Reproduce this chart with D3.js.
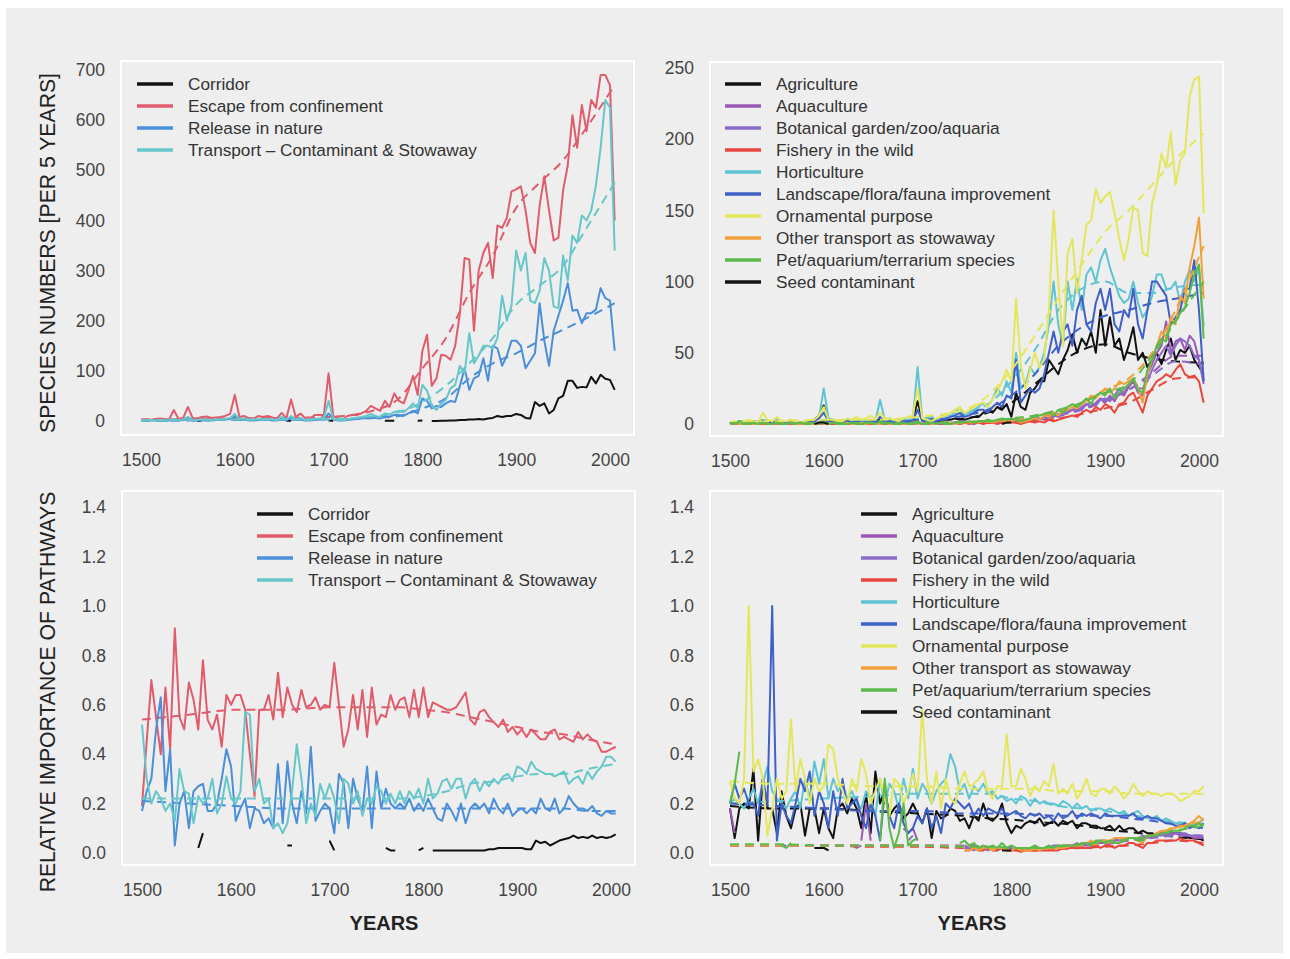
<!DOCTYPE html>
<html>
<head>
<meta charset="utf-8">
<script src="https://cdn.jsdelivr.net/npm/d3@7/dist/d3.min.js"></script>
<style>
  html, body { margin: 0; padding: 0; background: #fff; }
  svg { display: block; }
</style>
</head>
<body>
<div id="chart"></div>
<script>
const _ = null;

// ---------- categories ----------
const years = [
1500,1505,1510,1515,1520,1525,1530,1535,1540,1545,
1550,1555,1560,1565,1570,1575,1580,1585,1590,1595,
1600,1605,1610,1615,1620,1625,1630,1635,1640,1645,
1650,1655,1660,1665,1670,1675,1680,1685,1690,1695,
1700,1705,1710,1715,1720,1725,1730,1735,1740,1745,
1750,1755,1760,1765,1770,1775,1780,1785,1790,1795,
1800,1805,1810,1815,1820,1825,1830,1835,1840,1845,
1850,1855,1860,1865,1870,1875,1880,1885,1890,1895,
1900,1905,1910,1915,1920,1925,1930,1935,1940,1945,
1950,1955,1960,1965,1970,1975,1980,1985,1990,1995,
2000,2005];
const trendYears = [1500,1550,1600,1650,1700,1750,1775,1800,1825,1850,1875,1900,1925,1950,1975,2005];
const xTickValues = [1500,1600,1700,1800,1900,2000];
const countTicks1 = [0,100,200,300,400,500,600,700];
const countTicks2 = [0,50,100,150,200,250];
const shareTicks = [0,0.2,0.4,0.6,0.8,1.0,1.2,1.4];

const groupNames = ["Corridor","Escape from confinement","Release in nature","Transport \u2013 Contaminant & Stowaway"];
const pathwayNames = ["Agriculture","Aquaculture","Botanical garden/zoo/aquaria","Fishery in the wild","Horticulture",
  "Landscape/flora/fauna improvement","Ornamental purpose","Other transport as stowaway","Pet/aquarium/terrarium species","Seed contaminant"];

// ---------- panel 1: species numbers by pathway group ----------
const corridorCount = [
_,_,_,_,_,_,_,_,_,_,
_,_,0,1,_,_,_,_,_,_,
_,_,_,_,_,_,_,_,_,_,
_,0.5,0.5,_,_,_,_,_,_,_,
1,0.3,_,_,_,_,_,_,_,_,
_,_,0.5,0.3,0.3,_,_,_,_,0.3,
1,_,0,0,0.5,0.5,1,1,2,2,
3,3,4,3,5,6,10,8,10,10,
14,12,6,5,38,30,35,15,22,45,
50,80,80,66,68,67,88,75,92,84,
82,62];
const escapeCount = [
2,3,2,4,5,4,3,22,4,6,
28,6,5,8,9,6,7,8,10,14,
52,8,10,5,4,10,8,10,7,5,
16,5,43,8,15,6,3,12,12,12,
95,10,5,3,10,12,12,15,20,30,
25,20,40,28,55,40,35,60,90,52,
140,172,70,85,132,130,122,150,215,325,
322,180,300,335,355,285,390,385,405,458,
462,468,420,355,335,430,488,420,360,365,
460,510,610,545,630,578,640,625,690,690,
670,400];
const releaseCount = [
1,0,1,1,1,0,1,2,1,2,
4,1,1,2,1,1,2,2,3,4,
10,2,3,1,1,2,2,3,1,1,
5,1,6,2,3,1,1,2,3,3,
15,3,1,1,2,3,4,5,6,8,
6,5,10,8,12,12,10,15,20,15,
45,40,25,30,28,35,40,38,70,105,
62,85,90,125,80,150,145,110,130,160,
160,150,105,120,135,235,160,110,180,210,
240,275,220,222,195,215,215,222,265,245,
240,140];
const transportCount = [
1,1,2,1,2,1,2,4,2,3,
8,2,2,3,3,2,3,3,4,6,
14,4,5,2,3,4,3,4,3,2,
8,3,10,3,6,2,2,4,5,6,
40,4,2,1,4,5,6,8,10,14,
10,8,15,12,18,20,18,25,35,25,
72,60,30,22,35,42,65,72,110,95,
175,115,130,150,150,145,165,250,200,230,
340,300,335,240,235,260,325,300,228,225,
330,280,370,355,410,400,420,470,545,640,
625,340];
const escapeCountTrend    = [3,4,5,6,8,22,45,105,165,255,330,425,475,520,585,670];
const releaseCountTrend   = [0,1,2,2,3,6,10,25,45,85,115,135,160,182,205,235];
const transportCountTrend = [1,2,3,3,4,10,18,38,70,115,165,232,270,310,385,475];

// ---------- panel 2: species numbers by pathway ----------
const agricultureCount = [
1,1,2,1,1,2,1,2,1,2,
3,1,1,1,2,1,1,2,3,6,
13,3,2,1,1,2,1,2,1,2,
2,1,4,1,2,1,1,2,2,3,
16,3,1,1,2,2,3,3,4,3,
3,4,5,5,8,10,8,12,10,14,
5,22,12,10,22,25,30,30,45,40,
35,45,52,63,50,60,55,65,50,80,
55,75,55,60,45,55,68,45,50,40,
45,50,42,52,60,45,52,50,55,45,
40,35];
const aquacultureCount = [
1,0,1,0,1,0,0,1,0,1,
1,0,0,1,0,1,0,0,1,1,
1,0,1,0,0,1,0,1,0,0,
1,0,1,0,0,1,0,0,1,0,
1,0,0,1,0,0,1,0,1,1,
1,1,0,1,1,2,1,1,2,2,
2,2,1,2,3,3,4,3,5,6,
5,7,8,10,9,12,14,12,15,18,
15,20,16,22,20,26,30,22,20,35,
42,50,55,72,50,58,60,52,62,58,
45,30];
const botanicalCount = [
0,1,0,1,0,0,1,0,1,0,
0,1,0,0,1,0,1,0,0,1,
2,0,0,1,0,0,1,0,1,0,
1,1,0,0,1,0,0,1,0,1,
2,0,1,0,1,0,0,1,1,2,
2,1,1,2,2,1,2,2,3,3,
3,2,2,3,3,4,3,5,6,5,
7,6,9,10,12,10,14,15,13,17,
18,16,20,25,22,28,32,25,25,30,
38,45,50,55,48,55,60,58,55,48,
45,28];
const fisheryCount = [
0,0,1,0,0,1,0,0,0,1,
0,0,1,0,0,0,1,0,0,0,
1,0,0,0,1,0,0,0,0,1,
0,0,1,0,0,0,1,0,0,0,
1,0,0,0,0,1,0,0,1,0,
1,0,1,1,0,1,1,0,1,1,
1,1,0,1,2,1,2,1,3,2,
3,4,5,6,5,8,10,8,12,10,
14,12,8,14,15,20,22,15,8,20,
25,30,32,35,33,38,42,35,33,34,
30,15];
const horticultureCount = [
1,1,2,1,2,1,2,3,2,2,
3,2,1,2,2,1,2,2,3,5,
25,4,3,2,2,3,2,3,2,2,
3,2,17,3,4,2,2,3,3,4,
40,4,2,2,3,3,4,6,8,12,
6,8,10,12,15,12,18,25,20,30,
22,50,25,28,40,35,40,50,70,100,
70,55,100,80,102,80,105,110,100,115,
123,110,100,90,85,88,100,85,75,80,
90,105,105,95,95,100,85,100,108,100,
110,68];
const landscapeCount = [
1,1,1,2,1,1,1,2,1,1,
2,1,1,1,2,1,1,2,2,4,
8,2,2,1,1,2,1,2,1,1,
3,1,5,1,2,1,1,2,2,2,
10,2,1,1,2,3,3,5,6,8,
5,6,8,10,10,8,12,15,12,20,
18,45,15,20,25,22,25,35,50,65,
50,65,70,55,80,90,70,65,85,95,
80,95,70,65,80,75,95,70,60,80,
100,100,95,90,70,75,80,95,95,115,
80,30];
const ornamentalCount = [
1,2,1,2,3,2,1,8,3,2,
5,2,2,3,2,1,2,3,3,6,
12,3,3,2,2,4,3,5,3,4,
6,3,8,4,4,3,2,4,5,6,
25,4,3,2,4,5,6,8,10,12,
8,10,12,14,15,12,18,22,30,38,
30,88,42,25,38,50,40,45,80,150,
100,55,120,130,92,115,140,143,165,155,
160,163,148,130,115,130,152,150,120,118,
155,168,190,180,205,168,185,190,230,242,
244,148];
const otherTransportCount = [
0,1,0,0,1,0,0,1,0,0,
1,0,0,1,0,0,1,0,0,1,
1,0,1,0,0,1,0,0,1,0,
1,0,0,1,0,0,1,0,0,1,
1,0,1,0,0,1,0,1,0,1,
1,1,2,1,2,2,1,2,3,2,
2,3,1,2,3,4,3,6,5,8,
6,9,10,12,11,14,16,20,18,22,
25,22,25,30,28,30,32,25,15,35,
45,55,65,60,75,70,90,85,110,125,
145,88];
const petCount = [
1,0,2,0,0,1,0,1,0,0,
1,0,0,1,0,1,0,0,1,0,
2,0,1,0,0,0,1,0,0,1,
1,0,2,0,1,0,0,1,0,0,
2,0,0,1,0,1,0,0,1,1,
1,2,1,2,2,3,2,3,4,3,
4,3,2,3,4,5,6,7,8,6,
10,8,12,14,12,15,18,14,20,22,
20,25,18,22,25,28,32,24,22,38,
45,55,60,58,70,72,78,82,92,105,
112,60];
const seedCount = [
_,_,_,_,_,_,_,_,_,_,
_,_,_,_,_,_,_,_,0,1,
1,0,_,_,_,_,_,_,_,_,
_,_,_,_,_,_,_,_,_,_,
_,_,_,_,_,_,_,_,_,_,
_,_,_,_,_,_,_,_,0,1,
1,_,_,_,_,_,_,_,_,_,
_,_,_,_,_,_,_,_,_,_,
_,_,_,_,_,_,_,_,_,_,
_,_,_,_,_,_,_,_,_,_,
_,_];
const agricultureCountTrend    = [1,1.5,2,2,3,4,8,15,28,42,52,56,50,46,44,43];
const aquacultureCountTrend    = [0.5,0.5,0.5,0.5,0.5,1,1,2,3,6,10,16,24,36,48,48];
const botanicalCountTrend      = [0.5,0.5,0.5,0.5,0.7,1,1.5,3,4,7,11,17,24,34,44,42];
const fisheryCountTrend        = [0.3,0.3,0.3,0.3,0.4,0.5,0.8,1,2,4,7,11,15,24,32,33];
const horticultureCountTrend   = [1,1.5,2,2.5,4,8,14,30,52,80,95,100,92,92,96,98];
const landscapeCountTrend      = [0.8,1,1.5,1.5,2.5,6,10,20,35,55,68,76,80,85,88,92];
const ornamentalCountTrend     = [1.5,2,3,3,5,10,20,38,62,88,112,135,150,168,186,204];
const otherTransportCountTrend = [0.5,0.5,0.5,0.5,0.6,1,1.5,3,5,9,15,24,32,50,80,125];
const petCountTrend            = [0.6,0.6,0.7,0.7,0.8,1.5,2,4,6,10,15,22,28,48,72,100];

// ---------- panel 3: relative importance by pathway group ----------
const corridorShare = [
_,_,_,_,_,_,_,_,_,_,
_,_,0.02,0.08,_,_,_,_,_,_,
_,_,_,_,_,_,_,_,_,_,
_,0.03,0.03,_,_,_,_,_,_,_,
0.05,0.01,_,_,_,_,_,_,_,_,
_,_,0.02,0.01,0.01,_,_,_,_,0.01,
0.02,_,0.01,0.01,0.01,0.01,0.01,0.01,0.01,0.01,
0.01,0.01,0.01,0.01,0.015,0.015,0.02,0.02,0.02,0.02,
0.02,0.02,0.015,0.015,0.05,0.04,0.045,0.03,0.04,0.05,
0.055,0.06,0.07,0.06,0.065,0.06,0.07,0.06,0.065,0.06,
0.065,0.075];
const escapeShare = [
0.19,0.45,0.70,0.55,0.40,0.67,0.42,0.91,0.55,0.50,
0.69,0.62,0.50,0.78,0.54,0.50,0.56,0.43,0.64,0.60,
0.64,0.64,0.58,0.40,0.23,0.58,0.58,0.64,0.54,0.73,
0.55,0.67,0.60,0.57,0.66,0.59,0.60,0.63,0.58,0.60,
0.59,0.77,0.60,0.43,0.50,0.64,0.50,0.66,0.47,0.67,
0.52,0.56,0.55,0.64,0.58,0.62,0.63,0.55,0.66,0.55,
0.67,0.55,0.61,0.60,0.59,0.58,0.58,0.59,0.62,0.65,
0.54,0.52,0.57,0.58,0.55,0.53,0.51,0.54,0.49,0.51,
0.48,0.50,0.47,0.50,0.48,0.46,0.46,0.49,0.50,0.46,
0.47,0.46,0.45,0.49,0.46,0.48,0.46,0.45,0.41,0.41,
0.42,0.43];
const releaseShare = [
0.17,0.25,0.30,0.50,0.63,0.25,0.42,0.03,0.20,0.25,
0.10,0.25,0.27,0.28,0.17,0.17,0.20,0.30,0.42,0.35,
0.13,0.18,0.22,0.10,0.18,0.17,0.12,0.14,0.10,0.36,
0.12,0.37,0.20,0.12,0.25,0.16,0.43,0.13,0.17,0.20,
0.18,0.08,0.32,0.28,0.10,0.30,0.22,0.17,0.35,0.10,
0.33,0.18,0.26,0.20,0.18,0.20,0.18,0.22,0.17,0.20,
0.17,0.22,0.18,0.14,0.13,0.20,0.17,0.13,0.20,0.12,
0.18,0.20,0.18,0.20,0.16,0.22,0.18,0.16,0.20,0.15,
0.17,0.18,0.16,0.18,0.16,0.22,0.18,0.17,0.22,0.16,
0.18,0.23,0.20,0.18,0.18,0.17,0.19,0.16,0.15,0.17,
0.16,0.16];
const transportShare = [
0.52,0.30,0.20,0.25,0.22,0.17,0.20,0.13,0.34,0.25,
0.24,0.12,0.23,0.20,0.22,0.30,0.16,0.20,0.31,0.22,
0.20,0.25,0.57,0.56,0.25,0.30,0.20,0.22,0.10,0.12,
0.08,0.12,0.25,0.44,0.30,0.12,0.20,0.15,0.28,0.22,
0.28,0.22,0.12,0.30,0.28,0.20,0.25,0.15,0.22,0.20,
0.27,0.25,0.20,0.24,0.20,0.25,0.20,0.25,0.22,0.26,
0.20,0.30,0.22,0.24,0.29,0.30,0.26,0.30,0.30,0.22,
0.28,0.30,0.25,0.29,0.27,0.30,0.28,0.31,0.32,0.29,
0.35,0.34,0.32,0.37,0.34,0.33,0.32,0.32,0.31,0.32,
0.33,0.28,0.30,0.31,0.28,0.33,0.30,0.33,0.35,0.39,
0.39,0.37];
const escapeShareTrend    = [0.54,0.56,0.58,0.58,0.59,0.59,0.59,0.58,0.57,0.55,0.53,0.51,0.49,0.48,0.46,0.44];
const releaseShareTrend   = [0.21,0.20,0.19,0.18,0.18,0.18,0.18,0.18,0.18,0.18,0.18,0.18,0.18,0.18,0.17,0.17];
const transportShareTrend = [0.22,0.22,0.22,0.22,0.22,0.22,0.22,0.23,0.25,0.28,0.29,0.31,0.32,0.32,0.34,0.36];

// ---------- panel 4: relative importance by pathway ----------
const agricultureShare = [
0.18,0.06,0.18,0.20,0.18,0.34,0.05,0.30,0.18,0.18,
0.08,0.25,0.15,0.10,0.18,0.20,0.07,0.18,0.18,0.08,
0.18,0.10,0.06,0.18,0.20,0.16,0.22,0.18,0.10,0.24,
0.08,0.33,0.20,0.26,0.15,0.18,0.20,0.14,0.16,0.20,
0.16,0.12,0.18,0.06,0.17,0.14,0.15,0.18,0.17,0.13,
0.14,0.10,0.15,0.13,0.20,0.14,0.13,0.15,0.20,0.12,
0.08,0.11,0.10,0.12,0.13,0.12,0.14,0.11,0.12,0.13,
0.11,0.13,0.12,0.13,0.10,0.12,0.12,0.11,0.11,0.10,
0.10,0.11,0.09,0.11,0.09,0.10,0.10,0.08,0.09,0.08,
0.08,0.07,0.08,0.09,0.08,0.08,0.08,0.07,0.06,0.06,
0.06,0.05];
const aquacultureShare = [
0.18,0.08,_,_,_,_,_,_,_,_,
_,0.03,0.03,_,_,_,_,_,_,_,
_,_,_,_,_,_,_,_,0.05,0.20,
0.05,_,_,_,_,_,_,0.10,0.08,0.10,
0.05,_,_,_,_,_,_,_,_,_,
0.03,0.02,0.02,0.01,0.02,0.02,0.01,0.02,0.02,0.01,
0.01,0.02,0.01,0.02,0.02,0.01,0.02,0.02,0.02,0.02,
0.02,0.03,0.03,0.03,0.02,0.03,0.03,0.03,0.04,0.04,
0.04,0.04,0.05,0.05,0.05,0.06,0.06,0.05,0.06,0.07,
0.07,0.08,0.08,0.09,0.08,0.08,0.07,0.07,0.07,0.06,
0.06,0.06];
const botanicalShare = [
_,_,_,_,_,_,_,_,_,_,
_,_,_,_,_,_,_,_,_,_,
_,_,_,_,_,_,0.03,0.02,0.03,_,
_,_,_,_,_,_,_,_,0.05,0.07,
_,_,_,_,_,_,_,_,_,_,
0.02,0.02,0.01,0.02,0.02,0.01,0.02,0.01,0.02,0.02,
0.02,0.01,0.02,0.02,0.01,0.02,0.02,0.02,0.02,0.03,
0.03,0.02,0.03,0.03,0.04,0.03,0.04,0.04,0.04,0.05,
0.05,0.04,0.05,0.06,0.05,0.06,0.06,0.06,0.07,0.06,
0.07,0.07,0.07,0.08,0.07,0.08,0.08,0.08,0.07,0.07,
0.07,0.06];
const fisheryShare = [
_,_,_,_,_,_,_,_,_,_,
_,_,_,_,_,_,_,_,_,_,
_,_,_,_,_,_,_,_,_,_,
_,_,_,_,_,_,_,_,_,_,
_,_,_,_,_,_,_,_,_,_,
0.01,0.01,0.02,0.01,0.01,0.02,0.01,0.01,0.02,0.01,
0.01,0.01,0.005,0.01,0.01,0.01,0.01,0.01,0.01,0.01,
0.01,0.02,0.02,0.02,0.02,0.02,0.02,0.02,0.03,0.02,
0.03,0.03,0.02,0.03,0.03,0.04,0.04,0.03,0.02,0.04,
0.04,0.05,0.05,0.05,0.05,0.05,0.06,0.05,0.05,0.05,
0.04,0.03];
const horticultureShare = [
0.20,0.22,0.20,0.18,0.22,0.26,0.20,0.28,0.35,0.25,
0.22,0.20,0.18,0.22,0.25,0.18,0.30,0.22,0.37,0.28,
0.38,0.22,0.30,0.25,0.28,0.22,0.25,0.20,0.18,0.25,
0.22,0.15,0.30,0.20,0.28,0.25,0.18,0.30,0.22,0.34,
0.22,0.28,0.25,0.20,0.25,0.28,0.30,0.40,0.35,0.25,
0.28,0.22,0.27,0.25,0.28,0.24,0.25,0.22,0.23,0.21,
0.22,0.20,0.23,0.22,0.19,0.22,0.20,0.21,0.20,0.20,
0.19,0.21,0.20,0.18,0.20,0.18,0.19,0.17,0.18,0.18,
0.17,0.18,0.17,0.16,0.17,0.15,0.16,0.17,0.15,0.14,
0.14,0.15,0.13,0.14,0.13,0.12,0.12,0.11,0.11,0.12,
0.12,0.14];
const landscapeShare = [
0.20,0.28,0.22,0.26,0.20,0.20,0.15,0.30,0.20,1.00,
0.05,0.20,0.15,0.12,0.20,0.30,0.25,0.33,0.15,0.25,
0.20,0.10,0.25,0.15,0.30,0.18,0.20,0.22,0.15,0.10,
0.20,0.15,0.05,0.25,0.15,0.10,0.20,0.12,0.08,0.10,
0.15,0.12,0.18,0.10,0.15,0.08,0.20,0.18,0.22,0.20,
0.18,0.20,0.15,0.18,0.15,0.18,0.17,0.16,0.18,0.15,
0.16,0.17,0.15,0.14,0.16,0.15,0.16,0.14,0.15,0.13,
0.16,0.14,0.15,0.17,0.14,0.16,0.15,0.16,0.15,0.14,
0.16,0.15,0.15,0.15,0.15,0.15,0.16,0.14,0.14,0.15,
0.14,0.14,0.13,0.12,0.12,0.11,0.11,0.12,0.10,0.11,
0.10,0.12];
const ornamentalShare = [
0.29,0.22,0.20,0.30,1.00,0.33,0.38,0.30,0.07,0.18,
0.30,0.22,0.25,0.54,0.25,0.38,0.30,0.20,0.30,0.25,
0.27,0.44,0.42,0.30,0.25,0.20,0.30,0.25,0.38,0.32,
0.20,0.25,0.30,0.22,0.15,0.30,0.28,0.20,0.25,0.32,
0.25,0.58,0.30,0.20,0.33,0.18,0.30,0.22,0.20,0.28,
0.33,0.27,0.28,0.30,0.33,0.25,0.22,0.27,0.27,0.48,
0.27,0.27,0.34,0.30,0.23,0.27,0.25,0.29,0.27,0.36,
0.24,0.26,0.24,0.28,0.22,0.25,0.30,0.24,0.23,0.26,
0.26,0.24,0.27,0.25,0.22,0.24,0.28,0.25,0.23,0.25,
0.24,0.24,0.23,0.24,0.24,0.23,0.21,0.22,0.23,0.25,
0.25,0.27];
const otherTransportShare = [
_,_,_,_,_,_,_,_,_,_,
_,_,_,_,_,_,_,_,_,_,
_,_,_,_,_,_,_,_,_,_,
_,_,_,_,_,_,_,_,_,_,
_,_,_,_,_,_,_,_,_,_,
0.01,0.01,0.02,0.01,0.02,0.02,0.01,0.02,0.02,0.01,
0.01,0.02,0.01,0.01,0.01,0.02,0.01,0.02,0.02,0.02,
0.02,0.02,0.03,0.03,0.03,0.04,0.04,0.05,0.04,0.05,
0.05,0.05,0.06,0.06,0.06,0.06,0.06,0.05,0.04,0.07,
0.07,0.08,0.09,0.09,0.10,0.10,0.11,0.11,0.12,0.13,
0.15,0.13];
const petShare = [
0.20,0.28,0.41,_,0.05,_,_,_,_,_,
_,0.03,0.02,0.04,_,0.07,_,0.02,_,_,
0.02,0.01,_,_,_,_,_,_,_,_,
_,_,0.05,0.30,0.10,0.02,0.08,0.20,0.03,0.05,
0.06,_,_,_,_,_,_,_,_,0.04,
0.05,0.03,0.04,0.02,0.03,0.02,0.03,0.02,0.04,0.02,
0.03,0.02,0.02,0.02,0.02,0.03,0.02,0.02,0.03,0.02,
0.03,0.03,0.03,0.03,0.03,0.04,0.04,0.03,0.05,0.05,
0.04,0.05,0.04,0.04,0.05,0.06,0.06,0.05,0.05,0.07,
0.07,0.07,0.08,0.08,0.09,0.09,0.09,0.10,0.11,0.11,
0.12,0.11];
const seedShare = [
_,_,_,_,_,_,_,_,_,_,
_,_,_,_,_,_,_,_,0.02,0.02,
0.02,0.01,_,_,_,_,_,_,_,_,
_,_,_,_,_,_,_,_,_,_,
_,_,_,_,_,_,_,_,_,_,
_,_,_,_,_,_,_,_,0.01,0.01,
0.01,_,_,_,_,_,_,_,_,_,
_,_,_,_,_,_,_,_,_,_,
_,_,_,_,_,_,_,_,_,_,
_,_,_,_,_,_,_,_,_,_,
_,_];
const agricultureShareTrend    = [0.19,0.18,0.18,0.17,0.16,0.15,0.14,0.135,0.125,0.12,0.11,0.095,0.085,0.075,0.065,0.055];
const aquacultureShareTrend    = [0.03,0.03,0.03,0.03,0.03,0.03,0.025,0.02,0.02,0.02,0.025,0.035,0.05,0.065,0.075,0.065];
const botanicalShareTrend      = [0.03,0.03,0.03,0.03,0.03,0.025,0.02,0.02,0.02,0.025,0.03,0.04,0.05,0.06,0.07,0.07];
const fisheryShareTrend        = [0.03,0.03,0.03,0.025,0.025,0.02,0.02,0.015,0.01,0.015,0.02,0.025,0.03,0.04,0.05,0.04];
const horticultureShareTrend   = [0.20,0.21,0.22,0.23,0.24,0.24,0.24,0.22,0.21,0.19,0.18,0.17,0.155,0.14,0.125,0.12];
const landscapeShareTrend      = [0.20,0.19,0.18,0.17,0.17,0.16,0.16,0.16,0.155,0.15,0.15,0.15,0.14,0.13,0.115,0.10];
const ornamentalShareTrend     = [0.29,0.28,0.28,0.27,0.27,0.26,0.26,0.26,0.26,0.25,0.25,0.25,0.24,0.24,0.24,0.24];
const otherTransportShareTrend = [0.03,0.03,0.03,0.03,0.03,0.025,0.02,0.02,0.015,0.02,0.03,0.04,0.055,0.07,0.10,0.13];
const petShareTrend            = [0.035,0.035,0.03,0.03,0.03,0.025,0.025,0.02,0.02,0.025,0.035,0.045,0.055,0.07,0.09,0.11];

// ---------- colours ----------
const groupColors = ["#111111","#e05c6c","#4a8fd8","#66c6ca"];
const pathwayColors = ["#111111","#9b59b6","#8a6cc8","#e8473f","#5ec3d2","#3f60c6","#e4e65c","#f2a13a","#5cba4a","#111111"];

// ---------- drawing ----------
const FONT = '"Liberation Sans", Arial, Helvetica, sans-serif';
const BG = "#eeeeee";
const W = 1290, H = 959;
const svg = d3.select("#chart").append("svg").attr("width", W).attr("height", H);
svg.append("rect").attr("width", W).attr("height", H).attr("fill", "#ffffff");
svg.append("rect").attr("x", 6).attr("y", 8).attr("width", 1277).attr("height", 945).attr("fill", BG);

const xDomain = [1478.7, 2025.6];

function drawPanel(p) {
  const x = d3.scaleLinear().domain(xDomain).range([p.left, p.right]);
  const y = d3.scaleLinear().domain(p.yDomain).range([p.bottom, p.top]);
  const g = svg.append("g");

  g.append("rect").attr("x", p.left).attr("y", p.top)
    .attr("width", p.right - p.left).attr("height", p.bottom - p.top)
    .attr("fill", BG).attr("stroke", "#ffffff").attr("stroke-width", 2);

  const ax = g.append("g").attr("transform", `translate(0,${p.bottom})`)
    .call(d3.axisBottom(x).tickValues(xTickValues).tickFormat(d3.format("d")).tickSize(0).tickPadding(19));
  ax.select(".domain").remove();
  ax.selectAll("text").attr("font-family", FONT).attr("font-size", 17.5).attr("fill", "#444");

  const ay = g.append("g").attr("transform", `translate(${p.left},0)`)
    .call(d3.axisLeft(y).tickValues(p.yTicks).tickFormat(p.fmt).tickSize(0).tickPadding(16));
  ay.select(".domain").remove();
  ay.selectAll("text").attr("font-family", FONT).attr("font-size", 17.5).attr("fill", "#444");

  const clipId = "clip" + p.id;
  svg.append("clipPath").attr("id", clipId).append("rect")
    .attr("x", p.left + 1).attr("y", p.top + 1)
    .attr("width", p.right - p.left - 2).attr("height", p.bottom - p.top - 2);
  const plot = g.append("g").attr("clip-path", `url(#${clipId})`);

  const line = d3.line().defined(d => d[1] != null).x(d => x(d[0])).y(d => y(d[1]));
  const trendLine = d3.line().curve(d3.curveMonotoneX).x(d => x(d[0])).y(d => y(d[1]));

  p.series.forEach(s => {
    plot.append("path")
      .datum(years.map((yr, i) => [yr, s.values[i]]))
      .attr("d", line).attr("fill", "none").attr("stroke", s.color)
      .attr("stroke-width", 2).attr("stroke-linejoin", "round");
    if (s.trend) {
      plot.append("path")
        .datum(trendYears.map((yr, i) => [yr, s.trend[i]]))
        .attr("d", trendLine).attr("fill", "none").attr("stroke", s.color)
        .attr("stroke-width", 2).attr("stroke-dasharray", "9,6");
    }
  });

  const lg = g.append("g");
  p.series.forEach((s, i) => {
    const cy = p.legend.y + i * 22;
    lg.append("line").attr("x1", p.legend.x).attr("x2", p.legend.x + 36)
      .attr("y1", cy).attr("y2", cy).attr("stroke", s.color).attr("stroke-width", 3.5);
    lg.append("text").attr("x", p.legend.x + 51).attr("y", cy)
      .attr("dominant-baseline", "central")
      .attr("font-family", FONT).attr("font-size", 17.2).attr("fill", "#333")
      .text(s.name);
  });
}

const p1Series = [
  {name: groupNames[0], color: groupColors[0], values: corridorCount, trend: null},
  {name: groupNames[1], color: groupColors[1], values: escapeCount, trend: escapeCountTrend},
  {name: groupNames[2], color: groupColors[2], values: releaseCount, trend: releaseCountTrend},
  {name: groupNames[3], color: groupColors[3], values: transportCount, trend: transportCountTrend}
];
const p2Values = [agricultureCount, aquacultureCount, botanicalCount, fisheryCount, horticultureCount,
  landscapeCount, ornamentalCount, otherTransportCount, petCount, seedCount];
const p2Trends = [agricultureCountTrend, aquacultureCountTrend, botanicalCountTrend, fisheryCountTrend, horticultureCountTrend,
  landscapeCountTrend, ornamentalCountTrend, otherTransportCountTrend, petCountTrend, null];
const p3Series = [
  {name: groupNames[0], color: groupColors[0], values: corridorShare, trend: null},
  {name: groupNames[1], color: groupColors[1], values: escapeShare, trend: escapeShareTrend},
  {name: groupNames[2], color: groupColors[2], values: releaseShare, trend: releaseShareTrend},
  {name: groupNames[3], color: groupColors[3], values: transportShare, trend: transportShareTrend}
];
const p4Values = [agricultureShare, aquacultureShare, botanicalShare, fisheryShare, horticultureShare,
  landscapeShare, ornamentalShare, otherTransportShare, petShare, seedShare];
const p4Trends = [agricultureShareTrend, aquacultureShareTrend, botanicalShareTrend, fisheryShareTrend, horticultureShareTrend,
  landscapeShareTrend, ornamentalShareTrend, otherTransportShareTrend, petShareTrend, null];

drawPanel({id: 1, left: 121, right: 634, top: 61, bottom: 435, yDomain: [-28, 718],
  yTicks: countTicks1, fmt: d3.format("d"), series: p1Series, legend: {x: 137, y: 84}});
drawPanel({id: 2, left: 710, right: 1223, top: 62, bottom: 436, yDomain: [-8.4, 254.2],
  yTicks: countTicks2, fmt: d3.format("d"),
  series: pathwayNames.map((n, i) => ({name: n, color: pathwayColors[i], values: p2Values[i], trend: p2Trends[i]})),
  legend: {x: 725, y: 84}});
drawPanel({id: 3, left: 122, right: 635, top: 491, bottom: 865, yDomain: [-0.049, 1.466],
  yTicks: shareTicks, fmt: d3.format(".1f"), series: p3Series, legend: {x: 257, y: 514}});
drawPanel({id: 4, left: 710, right: 1223, top: 491, bottom: 865, yDomain: [-0.049, 1.466],
  yTicks: shareTicks, fmt: d3.format(".1f"),
  series: pathwayNames.map((n, i) => ({name: n, color: pathwayColors[i], values: p4Values[i], trend: p4Trends[i]})),
  legend: {x: 861, y: 514}});

// axis titles
svg.append("text").attr("transform", "translate(47,253) rotate(-90)")
  .attr("text-anchor", "middle").attr("dominant-baseline", "central")
  .attr("font-family", FONT).attr("font-size", 21.2).attr("fill", "#222")
  .text("SPECIES NUMBERS [PER 5 YEARS]");
svg.append("text").attr("transform", "translate(47,692) rotate(-90)")
  .attr("text-anchor", "middle").attr("dominant-baseline", "central")
  .attr("font-family", FONT).attr("font-size", 21.2).attr("fill", "#222")
  .text("RELATIVE IMPORTANCE OF PATHWAYS");
[[384, 923], [972, 923]].forEach(([cx, cy]) => {
  svg.append("text").attr("x", cx).attr("y", cy)
    .attr("text-anchor", "middle").attr("dominant-baseline", "central")
    .attr("font-family", FONT).attr("font-size", 20).attr("font-weight", 600).attr("fill", "#222")
    .text("YEARS");
});
</script>
</body>
</html>
